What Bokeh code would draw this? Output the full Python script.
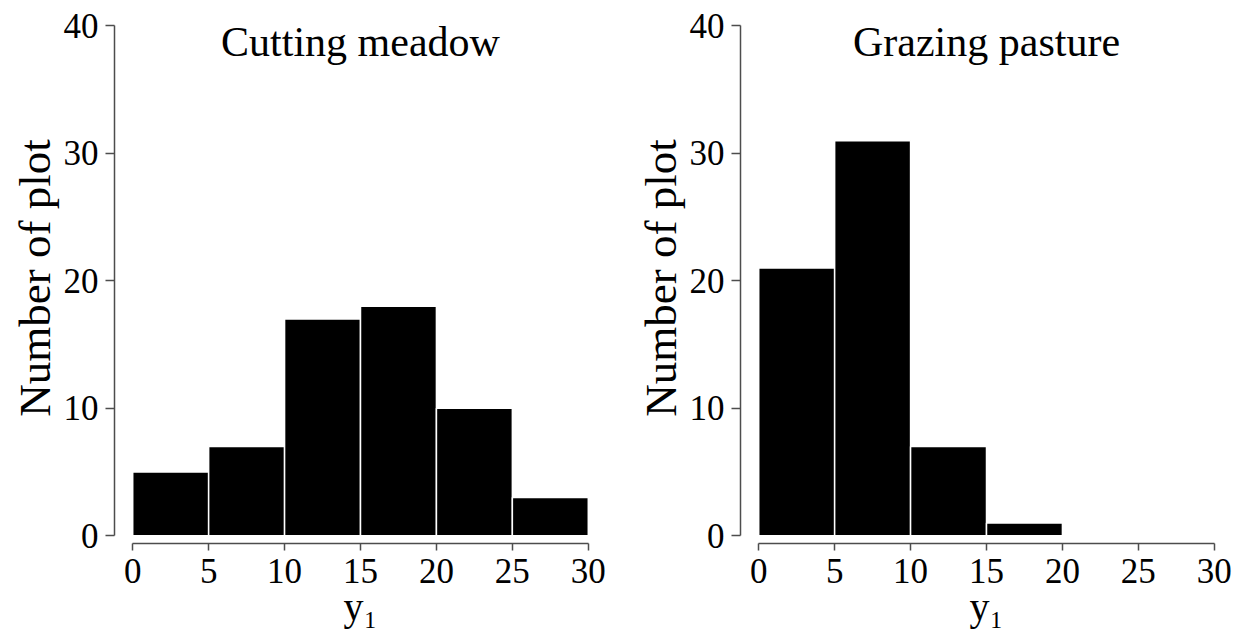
from bokeh.plotting import figure
from bokeh.models import FixedTicker, Label, ColumnDataSource
from bokeh.layouts import row
from bokeh.embed import file_html
from bokeh.resources import INLINE

# ---- data ----
bin_edges = [0, 5, 10, 15, 20, 25, 30]
cutting_counts = [5, 7, 17, 18, 10, 3]
grazing_counts = [21, 31, 7, 1, 0, 0]
panel_titles = ["Cutting meadow", "Grazing pasture"]
x_ticks = [0, 5, 10, 15, 20, 25, 30]
y_ticks = [0, 10, 20, 30, 40]
y_label = "Number of plot"
x_label = "y\u2081"

FONT = "Liberation Serif"
AXIS_COLOR = "#4d4d4d"


def make_panel(title, counts):
    p = figure(width=626, height=639,
               x_range=(-1.2, 31.2), y_range=(-0.6, 41.05),
               output_backend="svg", toolbar_location=None,
               min_border_left=114, min_border_right=20,
               min_border_top=12, min_border_bottom=96)
    p.grid.visible = False
    p.outline_line_color = None
    p.background_fill_color = "white"
    p.border_fill_color = "white"

    lefts, rights, tops = [], [], []
    for i, c in enumerate(counts):
        if c > 0:
            lefts.append(bin_edges[i])
            rights.append(bin_edges[i + 1])
            tops.append(c)
    src = ColumnDataSource(dict(left=lefts, right=rights, top=tops,
                                bottom=[0] * len(tops)))
    p.quad(left="left", right="right", bottom="bottom", top="top", source=src,
           fill_color="black", line_color="white", line_width=1.5)

    # x axis
    xa = p.xaxis[0]
    xa.ticker = FixedTicker(ticks=x_ticks)
    xa.bounds = (0, 30)
    xa.axis_line_color = AXIS_COLOR
    xa.axis_line_width = 1.5
    xa.major_tick_line_color = AXIS_COLOR
    xa.major_tick_line_width = 1.5
    xa.major_tick_out = 7
    xa.major_tick_in = 0
    xa.minor_tick_line_color = None
    xa.major_label_text_font = FONT
    xa.major_label_text_font_size = "35px"
    xa.major_label_text_color = "black"
    xa.major_label_standoff = 8
    xa.axis_label = x_label
    xa.axis_label_text_font = FONT
    xa.axis_label_text_font_size = "40px"
    xa.axis_label_text_font_style = "normal"
    xa.axis_label_text_color = "black"
    xa.axis_label_standoff = -2

    # y axis
    ya = p.yaxis[0]
    ya.ticker = FixedTicker(ticks=y_ticks)
    ya.bounds = (0, 40)
    ya.axis_line_color = AXIS_COLOR
    ya.axis_line_width = 1.5
    ya.major_tick_line_color = AXIS_COLOR
    ya.major_tick_line_width = 1.5
    ya.major_tick_out = 9
    ya.major_tick_in = 0
    ya.minor_tick_line_color = None
    ya.major_label_text_font = FONT
    ya.major_label_text_font_size = "35px"
    ya.major_label_text_color = "black"
    ya.major_label_standoff = 7
    ya.axis_label = y_label
    ya.axis_label_text_font = FONT
    ya.axis_label_text_font_size = "45px"
    ya.axis_label_text_font_style = "normal"
    ya.axis_label_text_color = "black"
    ya.axis_label_standoff = 1

    # panel title inside plotting region
    p.add_layout(Label(x=15, y=38.7, text=title, text_align="center",
                       text_baseline="alphabetic", text_font=FONT,
                       text_font_size="42px", text_color="black"))
    return p


p1 = make_panel(panel_titles[0], cutting_counts)
p2 = make_panel(panel_titles[1], grazing_counts)

layout = row(p1, p2)
open("out.html", "w").write(file_html(layout, INLINE))
